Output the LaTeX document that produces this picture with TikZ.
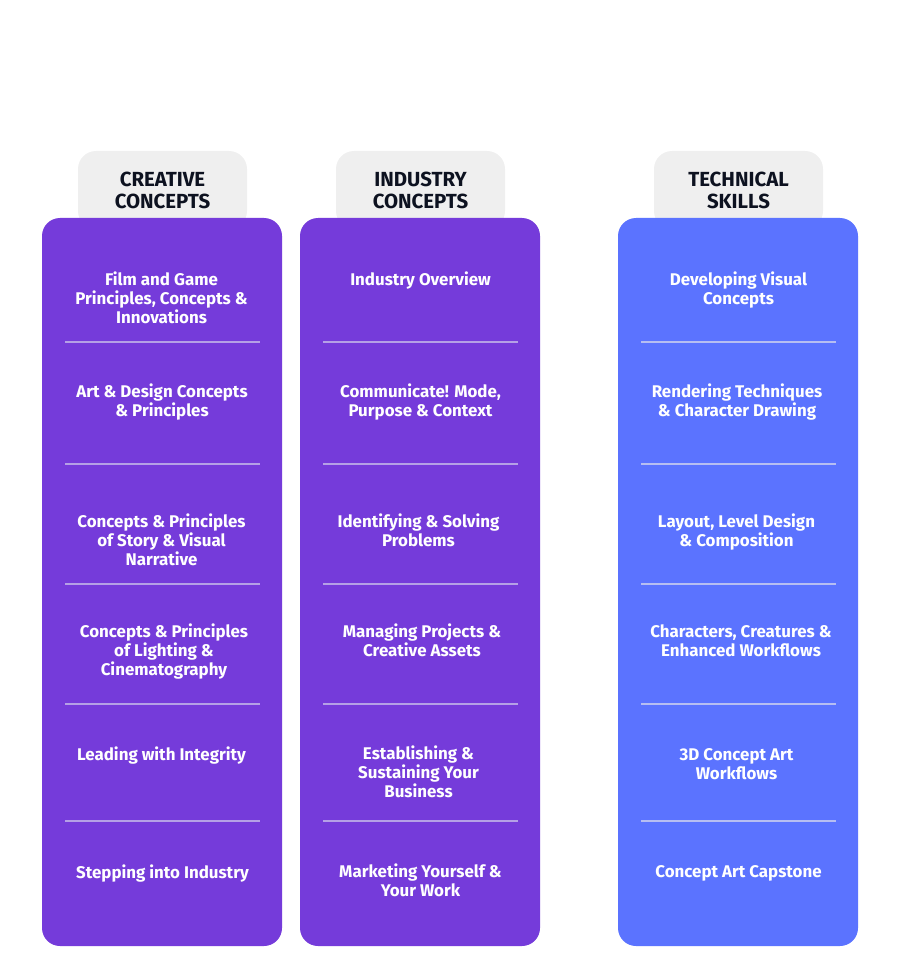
\documentclass[tikz,border=0pt]{standalone}
\usepackage{fontspec}
\setmainfont{Fira Sans}
\definecolor{coursepurple}{HTML}{753BDA}
\definecolor{courseblue}{HTML}{5B73FF}
\definecolor{tabgrey}{HTML}{EFEFEF}
\definecolor{tabink}{HTML}{0D1220}
\definecolor{rulepurple}{HTML}{B5A0E6}
\definecolor{ruleblue}{HTML}{B6BEF2}
\tikzset{
	panel/.style={rounded corners=18pt, minimum width=240pt, minimum height=728pt, inner sep=0pt},
	tab/.style={fill=tabgrey, rounded corners=18pt, minimum width=169pt, minimum height=78pt, inner sep=0pt, align=center, text=tabink, font=\fontsize{20.4}{22}\selectfont\bfseries},
	course/.style={align=center, text=white, inner sep=0pt, font=\fontsize{16.9}{19}\selectfont\bfseries},
	rulep/.style={draw=rulepurple, line width=2pt},
	ruleb/.style={draw=ruleblue, line width=2pt}
}
\begin{document}
\begin{tikzpicture}[x=1pt, y=-1pt]
	\useasboundingbox (0,0) rectangle (900,976);
	\node (tab1) [tab] at (162.5,190) {CREATIVE\\CONCEPTS};
	\node (tab2) [tab] at (420.5,190) {INDUSTRY\\CONCEPTS};
	\node (tab3) [tab] at (738.5,190) {TECHNICAL\\SKILLS};
	\node (panel1) [panel, fill=coursepurple] at (162,582) {};
	\node (panel2) [panel, fill=coursepurple] at (420,582) {};
	\node (panel3) [panel, fill=courseblue] at (738,582) {};
	% first column
	\node (a1) [course] at (161.5,298) {Film and Game\\Principles, Concepts \&\\Innovations};
	\node (a2) [course] at (162,402.5) {Art \& Design Concepts\\\& Principles};
	\node (a3) [course] at (161.5,540) {Concepts \& Principles\\of Story \& Visual\\Narrative};
	\node (a4) [course] at (164,651.5) {Concepts \& Principles\\of Lighting \&\\Cinematography};
	\node (a5) [course] at (161.5,755.5) {Leading with Integrity};
	\node (a6) [course] at (162.5,873.5) {Stepping into Industry};
	% second column
	\node (b1) [course] at (420.5,281) {Industry Overview};
	\node (b2) [course] at (420.5,402.5) {Communicate! Mode,\\Purpose \& Context};
	\node (b3) [course] at (418.5,530.5) {Identifying \& Solving\\Problems};
	\node (b4) [course] at (422,640.5) {Managing Projects \&\\Creative Assets};
	\node (b5) [course] at (418.5,771.5) {Establishing \&\\Sustaining Your\\Business};
	\node (b6) [course] at (420.5,880) {Marketing Yourself \&\\Your Work};
	% third column
	\node (c1) [course] at (738.5,290.5) {Developing Visual\\Concepts};
	\node (c2) [course] at (737,402.5) {Rendering Techniques\\\& Character Drawing};
	\node (c3) [course] at (736.5,532.5) {Layout, Level Design\\\& Composition};
	\node (c4) [course] at (741,640.5) {Characters, Creatures \&\\Enhanced Workflows};
	\node (c5) [course] at (736.5,764) {3D Concept Art\\Workflows};
	\node (c6) [course] at (738.5,873.5) {Concept Art Capstone};
	\path
	(65,341.5) edge [rulep] (260,341.5)
	(65,464) edge [rulep] (260,464)
	(65,584) edge [rulep] (260,584)
	(65,704) edge [rulep] (260,704)
	(65,821) edge [rulep] (260,821)
	(323,341.5) edge [rulep] (518,341.5)
	(323,464) edge [rulep] (518,464)
	(323,584) edge [rulep] (518,584)
	(323,704) edge [rulep] (518,704)
	(323,821) edge [rulep] (518,821)
	(641,341.5) edge [ruleb] (836,341.5)
	(641,464) edge [ruleb] (836,464)
	(641,584) edge [ruleb] (836,584)
	(641,704) edge [ruleb] (836,704)
	(641,821) edge [ruleb] (836,821);
\end{tikzpicture}
\end{document}
